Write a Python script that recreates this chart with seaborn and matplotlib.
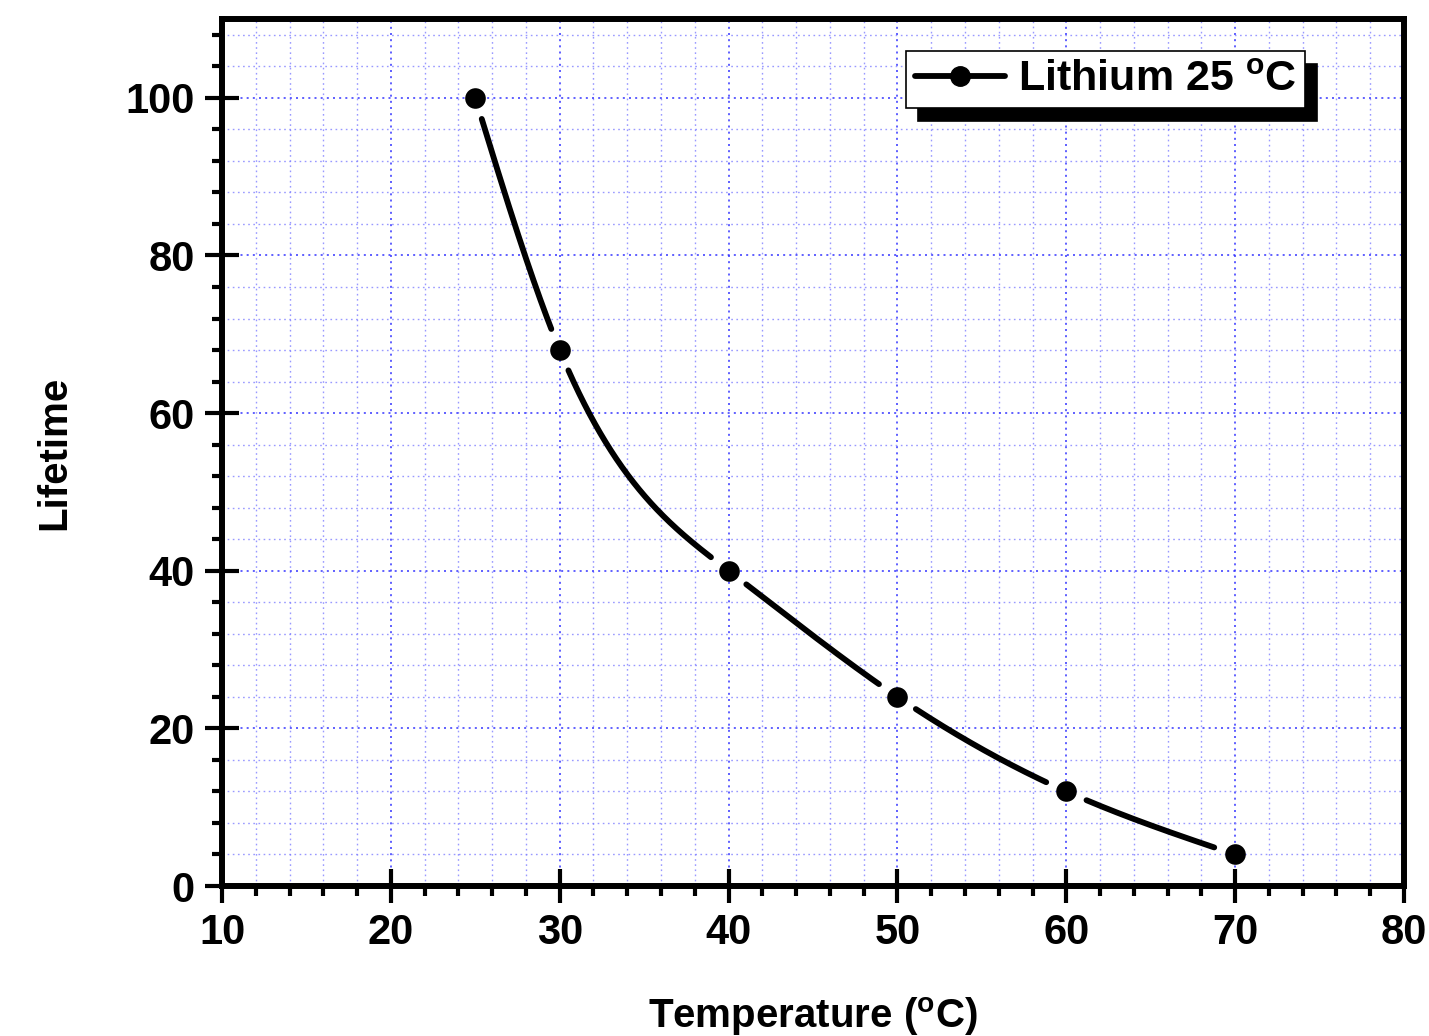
import numpy as np
import pandas as pd
import matplotlib
matplotlib.use("Agg")
import matplotlib.pyplot as plt
from matplotlib.lines import Line2D
from matplotlib.ticker import MultipleLocator
import seaborn as sns

# ---- data ----
temperature = [25, 30, 40, 50, 60, 70]
lifetime = [100, 68, 40, 24, 12, 4]
series_label = "Lithium 25 $^\\mathregular{o}$C"
x_label = "Temperature ($^\\mathregular{o}$C)"
y_label = "Lifetime"
x_ticks = [10, 20, 30, 40, 50, 60, 70, 80]
y_ticks = [0, 20, 40, 60, 80, 100]

sns.set_theme(style="white")
plt.rcParams['font.family'] = ['Liberation Sans', 'DejaVu Sans']
plt.rcParams['font.weight'] = 'bold'
plt.rcParams['mathtext.default'] = 'regular'
plt.rcParams['text.color'] = 'black'
plt.rcParams['axes.labelcolor'] = 'black'
plt.rcParams['xtick.color'] = 'black'
plt.rcParams['ytick.color'] = 'black'


def natural_spline(x, y, xs):
    x = np.asarray(x, float); y = np.asarray(y, float)
    n = len(x); h = np.diff(x)
    A = np.zeros((n, n)); b = np.zeros(n)
    A[0, 0] = 1; A[-1, -1] = 1
    for i in range(1, n - 1):
        A[i, i - 1] = h[i - 1]
        A[i, i] = 2 * (h[i - 1] + h[i])
        A[i, i + 1] = h[i]
        b[i] = 3 * ((y[i + 1] - y[i]) / h[i] - (y[i] - y[i - 1]) / h[i - 1])
    c = np.linalg.solve(A, b)
    out = np.empty_like(xs)
    for k, xv in enumerate(xs):
        i = min(max(np.searchsorted(x, xv) - 1, 0), n - 2)
        t = xv - x[i]
        bi = (y[i + 1] - y[i]) / h[i] - h[i] * (2 * c[i] + c[i + 1]) / 3
        di = (c[i + 1] - c[i]) / (3 * h[i])
        out[k] = y[i] + bi * t + c[i] * t ** 2 + di * t ** 3
    return out


W, H = 1429, 1036
fig = plt.figure(figsize=(W / 100, H / 100), dpi=100)
ax = fig.add_axes([222 / W, 1 - 886 / H, (1404 - 222) / W, (886 - 19) / H])
xlim = (10, 80); ylim = (0, 110)
ax.set_xlim(*xlim); ax.set_ylim(*ylim)

# smooth curve with gaps around markers
xs = np.linspace(temperature[0], temperature[-1], 2000)
ys = natural_spline(temperature, lifetime, xs)
pxx = (1404 - 222) / (xlim[1] - xlim[0])
pxy = (886 - 19) / (ylim[1] - ylim[0])
mask = np.ones_like(xs, dtype=bool)
for tx, ly in zip(temperature, lifetime):
    d = np.hypot((xs - tx) * pxx, (ys - ly) * pxy)
    mask &= d > 22
seg = np.cumsum(np.concatenate([[0], np.diff(mask.astype(int)) != 0]))
curve = pd.DataFrame({"x": xs, "y": ys, "seg": seg})[mask]
sns.lineplot(data=curve, x="x", y="y", units="seg", estimator=None, sort=False,
             color="black", linewidth=4.2, ax=ax, legend=False, zorder=3)

pts = pd.DataFrame({"T": temperature, "L": lifetime})
sns.scatterplot(data=pts, x="T", y="L", color="black", s=220, edgecolor="black",
                linewidth=0, ax=ax, legend=False, zorder=4)

# grid
ax.xaxis.set_major_locator(MultipleLocator(10))
ax.xaxis.set_minor_locator(MultipleLocator(2))
ax.yaxis.set_major_locator(MultipleLocator(20))
ax.yaxis.set_minor_locator(MultipleLocator(4))
ax.set_xticks(x_ticks)
ax.set_yticks(y_ticks)
ax.grid(which="minor", color="#8080ff", linestyle=(0, (1.2, 2.5)), linewidth=1.0, alpha=0.8)
ax.grid(which="major", color="#3030ff", linestyle=(0, (1.2, 2.5)), linewidth=1.2, alpha=0.9)
ax.set_axisbelow(True)

for s in ax.spines.values():
    s.set_linewidth(4.3)
    s.set_color("black")
ax.tick_params(which="major", direction="inout", length=25, width=3, color="black",
               labelsize=30, pad=7, bottom=True, left=True, labelcolor="black")
ax.tick_params(which="minor", direction="out", length=7, width=3, color="black",
               bottom=True, left=True)
for lab in ax.get_xticklabels() + ax.get_yticklabels():
    lab.set_fontweight("bold")

ax.set_xlabel(x_label, fontsize=29, fontweight="bold", labelpad=30, color="black")
ax.set_ylabel(y_label, fontsize=29, fontweight="bold", labelpad=38, color="black")

handle = Line2D([], [], color="black", linewidth=4.2, marker="o", markersize=14)
leg = ax.legend([handle], [series_label], loc="upper left",
                bbox_to_anchor=(906 / W, 1 - 51 / H), bbox_transform=fig.transFigure,
                borderaxespad=0, prop={"weight": "bold", "size": 31},
                handlelength=2.1, handletextpad=0.3, borderpad=0.2,
                fancybox=False, framealpha=1, edgecolor="black",
                shadow={"color": "black", "alpha": 1, "ox": 8.6, "oy": -9})
leg.get_frame().set_linewidth(1.2)
for t in leg.get_texts():
    t.set_color("black")

fig.savefig("out.png", dpi=100)
